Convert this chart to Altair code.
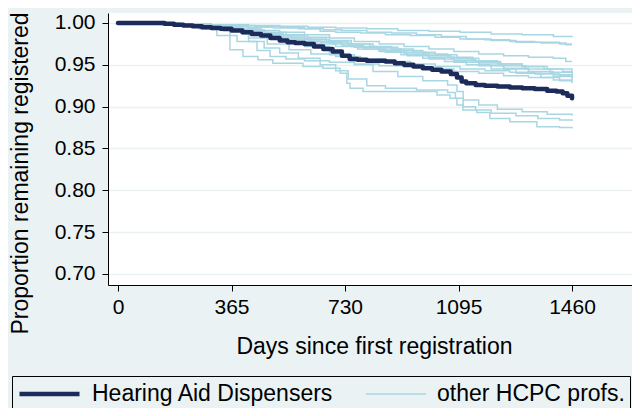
import altair as alt
import pandas as pd

# ---- data ----
GROUPS = ["Hearing Aid Dispensers", "other HCPC profs."]

had_days = [0, 150, 180, 210, 240, 270, 300, 330, 365, 400, 430, 460, 490, 520, 545, 570,
            600, 630, 660, 690, 720, 745, 770, 800, 830, 860, 890, 920, 950, 980, 1010, 1040,
            1070, 1090, 1105, 1120, 1150, 1180, 1220, 1260, 1300, 1340, 1380, 1410, 1430, 1445, 1460]
had_vals = [1.0, .999, .998, .997, .996, .995, .994, .993, .991, .989, .987, .985, .982, .979, .977, .976,
            .975, .972, .969, .966, .961, .957, .956, .955, .955, .954, .952, .950, .948, .946, .944, .942,
            .939, .935, .930, .928, .926, .925, .924, .923, .922, .921, .919, .918, .916, .913, .910]

other_days = [
    [0, 200, 300, 420, 520, 610, 700, 800, 900, 1000, 1100, 1200, 1300, 1400, 1460],
    [0, 180, 260, 350, 440, 520, 600, 650, 700, 780, 860, 940, 1020, 1100, 1180, 1260, 1340, 1420, 1460],
    [0, 160, 240, 330, 420, 500, 580, 660, 720, 800, 880, 960, 1040, 1120, 1200, 1280, 1360, 1440, 1460],
    [0, 150, 230, 300, 380, 450, 520, 600, 680, 760, 840, 920, 1000, 1080, 1160, 1240, 1320, 1400, 1440, 1460],
    [0, 140, 200, 260, 330, 400, 470, 540, 610, 680, 750, 820, 900, 980, 1060, 1140, 1220, 1300, 1380, 1460],
    [0, 120, 190, 250, 320, 390, 460, 530, 600, 670, 740, 810, 880, 950, 1020, 1090, 1160, 1230, 1300, 1370, 1430, 1460],
    [0, 130, 210, 280, 350, 420, 480, 545, 610, 680, 750, 830, 910, 990, 1070, 1150, 1230, 1310, 1390, 1460],
    [0, 150, 220, 290, 360, 420, 490, 560, 620, 690, 760, 840, 920, 1000, 1080, 1160, 1240, 1320, 1400, 1460],
    [0, 110, 180, 260, 330, 400, 470, 530, 590, 650, 720, 790, 860, 930, 1000, 1080, 1160, 1240, 1320, 1400, 1460],
    [0, 140, 210, 280, 340, 400, 460, 520, 580, 640, 700, 770, 840, 910, 980, 1050, 1120, 1200, 1280, 1360, 1420, 1460],
    [0, 130, 200, 260, 318, 383, 447, 489, 540, 600, 680, 760, 840, 920, 1000, 1080, 1160, 1240, 1320, 1400, 1460],
    [0, 150, 250, 330, 360, 402, 450, 498, 595, 659, 714, 736, 746, 788, 1026, 1068, 1090, 1109, 1154, 1196, 1260, 1347, 1420, 1460],
    [0, 160, 260, 350, 420, 470, 520, 580, 650, 700, 740, 800, 860, 960, 1060, 1085, 1110, 1150, 1200, 1280, 1350, 1420, 1460],
    [0, 170, 280, 380, 460, 530, 600, 680, 760, 820, 900, 980, 1060, 1090, 1110, 1160, 1220, 1300, 1380, 1460],
    [0, 200, 300, 370, 420, 480, 550, 620, 700, 780, 860, 940, 1020, 1100, 1180, 1260, 1340, 1420, 1460],
]
other_vals = [
    [1, .999, .998, .997, .996, .995, .994, .993, .991, .990, .989, .987, .986, .984, .983],
    [1, .999, .998, .997, .996, .995, .993, .990, .989, .988, .986, .985, .983, .981, .980, .978, .977, .975, .975],
    [1, .999, .998, .996, .995, .994, .993, .992, .991, .989, .988, .986, .984, .981, .979, .977, .976, .974, .974],
    [1, .999, .997, .995, .993, .991, .989, .986, .982, .978, .975, .972, .969, .966, .963, .961, .959, .958, .954, .954],
    [1, .999, .998, .996, .994, .992, .989, .986, .983, .979, .975, .971, .967, .963, .959, .955, .951, .948, .945, .942],
    [1, .999, .998, .996, .994, .991, .988, .985, .982, .978, .975, .972, .969, .965, .962, .958, .954, .951, .948, .945, .942, .940],
    [1, .999, .997, .995, .992, .989, .986, .983, .980, .976, .972, .969, .965, .961, .957, .953, .949, .945, .941, .937],
    [1, .998, .996, .994, .991, .988, .985, .982, .978, .975, .971, .967, .963, .959, .955, .951, .946, .942, .938, .934],
    [1, .999, .997, .995, .993, .990, .987, .983, .980, .977, .973, .969, .965, .961, .957, .953, .949, .945, .940, .936, .932],
    [1, .998, .996, .993, .990, .987, .984, .981, .978, .975, .972, .969, .966, .962, .958, .954, .950, .945, .940, .935, .931, .928],
    [1, .999, .997, .993, .985, .978, .967, .960, .957, .955, .953, .951, .949, .947, .945, .942, .940, .937, .935, .932, .930],
    [1, .999, .996, .991, .968, .960, .956, .952, .948, .946, .940, .928, .922, .918, .914, .910, .902, .896, .893, .886, .882, .876, .875, .874],
    [1, .999, .997, .993, .978, .970, .964, .958, .950, .943, .933, .925, .922, .920, .917, .910, .900, .896, .892, .889, .886, .884, .883],
    [1, .999, .997, .994, .988, .980, .972, .962, .950, .942, .936, .931, .926, .918, .908, .902, .897, .894, .891, .889],
    [1, .998, .995, .990, .982, .975, .968, .963, .960, .957, .954, .951, .948, .945, .943, .941, .939, .937, .936],
]

x_ticks = [0, 365, 730, 1095, 1460]
y_ticks = [0.70, 0.75, 0.80, 0.85, 0.90, 0.95, 1.00]

# ---- build tables ----
rows = []
for i, (ds, vs) in enumerate(zip(other_days, other_vals)):
    for d, v in zip(ds, vs):
        rows.append({"id": f"o{i}", "group": GROUPS[1], "day": d, "value": v})
light_df = pd.DataFrame(rows)
dark_df = pd.DataFrame({"id": "had", "group": GROUPS[0], "day": had_days, "value": had_vals})

BG = "#EAF2F3"
DARK = "#1C2B5A"
LIGHT = "#A9D6E3"
FONT = "Liberation Sans"

W, H = 524, 272
X_DOMAIN = [-32.16, 1652.9]
Y_DOMAIN = [0.68685, 1.01195]

legend = alt.Legend(
    title=None, orient="none", legendX=-96, legendY=363, direction="horizontal",
    strokeColor="black", fillColor=BG, padding=5, symbolType="stroke",
    symbolSize=3600, clipHeight=26, labelFontSize=23, labelFont=FONT, labelColor="black",
    labelLimit=400, labelOffset=10, columnPadding=31, cornerRadius=0,
)

enc = dict(
    x=alt.X("day:Q", scale=alt.Scale(domain=X_DOMAIN, nice=False, zero=False),
            axis=alt.Axis(values=x_ticks, title="Days since first registration", grid=False,
                          format="d", titleX=266, titleY=68, titleAlign="center",
                          titleBaseline="alphabetic", labelPadding=5)),
    y=alt.Y("value:Q", scale=alt.Scale(domain=Y_DOMAIN, nice=False, zero=False),
            axis=alt.Axis(values=y_ticks, format=".2f", title="Proportion remaining registered",
                          grid=True, gridColor=BG, gridWidth=1.5, titleX=-81, titleY=160,
                          titleAngle=-90, titleAlign="center", titleBaseline="alphabetic",
                          labelPadding=7)),
    color=alt.Color("group:N", scale=alt.Scale(domain=GROUPS, range=[DARK, LIGHT]), legend=legend),
    strokeWidth=alt.StrokeWidth("group:N", scale=alt.Scale(domain=GROUPS, range=[4.5, 1.5]), legend=legend),
    detail="id:N",
)

light = alt.Chart(light_df).mark_line(interpolate="step-after").encode(**enc)
dark = alt.Chart(dark_df).mark_line(interpolate="step-after", strokeJoin="round", strokeCap="round").encode(**enc)

chart = alt.layer(light, dark).properties(
    width=W, height=H,
    autosize=alt.AutoSizeParams(type="none"),
    padding={"left": 100, "top": 5, "right": 0, "bottom": 400 - 5 - H},
    background=BG,
).configure_view(fill="white", strokeWidth=0).configure_axis(
    domainColor="black", domainWidth=1, tickColor="black", tickSize=6, tickWidth=1,
    labelFont=FONT, labelFontSize=21, labelColor="black",
    titleFont=FONT, titleFontSize=23, titleFontWeight="normal", titleColor="black",
)

chart.save("out.html", embed_options={"renderer": "svg", "actions": False})
